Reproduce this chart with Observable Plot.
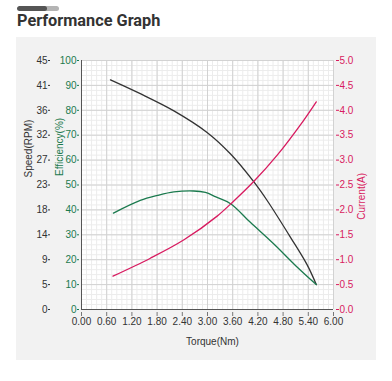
<!DOCTYPE html>
<html><head><meta charset="utf-8">
<script src="https://cdn.jsdelivr.net/npm/d3@7"></script>
<script src="https://cdn.jsdelivr.net/npm/@observablehq/plot@0.6"></script>
<style>
body{margin:0;background:#fff;width:392px;height:381px;position:relative;overflow:hidden;font-family:"Liberation Sans",Arial,sans-serif}
#bar{position:absolute;left:17px;top:6px;width:42px;height:5px;background:#b4b4b4;border-radius:3px;overflow:hidden}
#bar div{width:30px;height:5px;background:#555;border-radius:3px}
#title{position:absolute;left:17px;top:13px;font:700 16.3px Roboto,sans-serif;line-height:16px;color:#333}
#panel{position:absolute;left:16px;top:37px;width:360px;height:323px;background:#f2f2f2}
#panel svg{position:absolute;left:0;top:0}
</style></head>
<body>
<div id="bar"><div></div></div>
<div id="title">Performance Graph</div>
<div id="panel"></div>
<script>
// Tick values and labels
const xTicks = [0, 0.6, 1.2, 1.8, 2.4, 3.0, 3.6, 4.2, 4.8, 5.4, 6.0];
const xTickLabels = ["0.00","0.60","1.20","1.80","2.40","3.00","3.60","4.20","4.80","5.40","6.00"];
const effTicks = [0,10,20,30,40,50,60,70,80,90,100];
const effLabels = ["0","10","20","30","40","50","60","70","80","90","100"];
const speedLabels = ["0","5","9","14","18","23","27","32","36","41","45"];
const currentLabels = ["0.0","0.5","1.0","1.5","2.0","2.5","3.0","3.5","4.0","4.5","5.0"];
const speedMax = 45, currentMax = 5;

// Series: Speed (RPM)
const speedTorque = [0.69, 1.40, 2.20, 2.99, 3.55, 4.10, 4.42, 4.98, 5.37, 5.59];
const speedRpm    = [41.5, 39.0, 35.9, 32.0, 28.1, 23.1, 19.7, 13.0, 8.1, 4.5];
// Series: Efficiency (%)
const effTorque = [0.76, 1.40, 1.81, 2.20, 2.67, 2.95, 3.20, 3.55, 4.02, 4.58, 5.10, 5.59];
const effValue  = [38.7, 43.8, 45.8, 47.2, 47.6, 47.0, 45.2, 42.5, 35.0, 26.3, 17.6, 10.0];
// Series: Current (A)
const curTorque = [0.75, 1.64, 2.44, 3.23, 3.59, 4.10, 4.66, 5.29, 5.59];
const curValue  = [0.67, 1.03, 1.40, 1.875, 2.15, 2.57, 3.10, 3.80, 4.17];

const speedData = speedTorque.map((t,i)=>({t, v: speedRpm[i]}));
const effData = effTorque.map((t,i)=>({t, v: effValue[i]}));
const curData = curTorque.map((t,i)=>({t, v: curValue[i]}));

// grid subdivisions (5 per major step)
const minorXs = d3.range(0, 51).map(i => +(i*0.12).toFixed(2));
const minorYs = d3.range(0, 51).map(i => i*2);

const green = "#1b7a4e", magenta = "#d81b60", dark = "#333";
const font = "Liberation Sans, Arial, sans-serif";

const chart = Plot.plot({
  width: 360, height: 323,
  marginTop: 23, marginBottom: 51, marginLeft: 65, marginRight: 43,
  style: {background: "transparent", fontFamily: font, fontSize: "10px", overflow: "visible"},
  x: {domain: [0, 6]},
  y: {domain: [0, 100]},
  marks: [
    Plot.frame({fill: "white", stroke: null}),
    Plot.ruleX(minorXs, {stroke: "#ececec", strokeWidth: 1}),
    Plot.ruleY(minorYs, {stroke: "#ececec", strokeWidth: 1}),
    Plot.ruleX(xTicks, {stroke: "#d2d2d2", strokeWidth: 1}),
    Plot.ruleY(effTicks, {stroke: "#d2d2d2", strokeWidth: 1}),
    Plot.ruleX([0], {stroke: "#555"}),
    Plot.ruleY([0], {stroke: "#555"}),
    Plot.line(speedData, {x: "t", y: d => d.v / speedMax * 100, stroke: dark, strokeWidth: 1.3, curve: "catmull-rom"}),
    Plot.line(effData, {x: "t", y: "v", stroke: green, strokeWidth: 1.3, curve: "catmull-rom"}),
    Plot.line(curData, {x: "t", y: d => d.v / currentMax * 100, stroke: magenta, strokeWidth: 1.3, curve: "catmull-rom"}),
    Plot.axisX(xTicks, {tickFormat: d => xTickLabels[Math.round(d / 0.6)], tickSize: 4, tickPadding: 1, dy: 3, fill: dark, stroke: "#777", label: null}),
    Plot.axisY(effTicks, {anchor: "left", tickFormat: d => effLabels[Math.round(d / 10)], tickSize: 2, tickPadding: 1, dx: -2, fill: green, stroke: green, label: null}),
    Plot.axisY(effTicks, {anchor: "left", tickFormat: d => speedLabels[Math.round(d / 10)], tickSize: 2, tickPadding: 1, dx: -31, fill: dark, stroke: dark, label: null}),
    Plot.axisY(effTicks, {anchor: "right", tickFormat: d => currentLabels[Math.round(d / 10)], tickSize: 3, tickPadding: 1, dx: 2, fill: magenta, stroke: magenta, label: null}),
    Plot.text(["Torque(Nm)"], {frameAnchor: "bottom", text: d => d, dx: 5, dy: 35, fill: dark, fontSize: 10}),
    Plot.text(["Speed(RPM)"], {frameAnchor: "left", text: d => d, rotate: -90, dx: -53, dy: -7.5, fill: dark, fontSize: 10}),
    Plot.text(["Efficiency(%)"], {frameAnchor: "left", text: d => d, rotate: -90, dx: -22, dy: -9, fill: green, fontSize: 10}),
    Plot.text(["Current(A)"], {frameAnchor: "right", text: d => d, rotate: -90, dx: 28, dy: -12, fill: magenta, fontSize: 10})
  ]
});
document.getElementById("panel").appendChild(chart);
</script>
</body></html>
